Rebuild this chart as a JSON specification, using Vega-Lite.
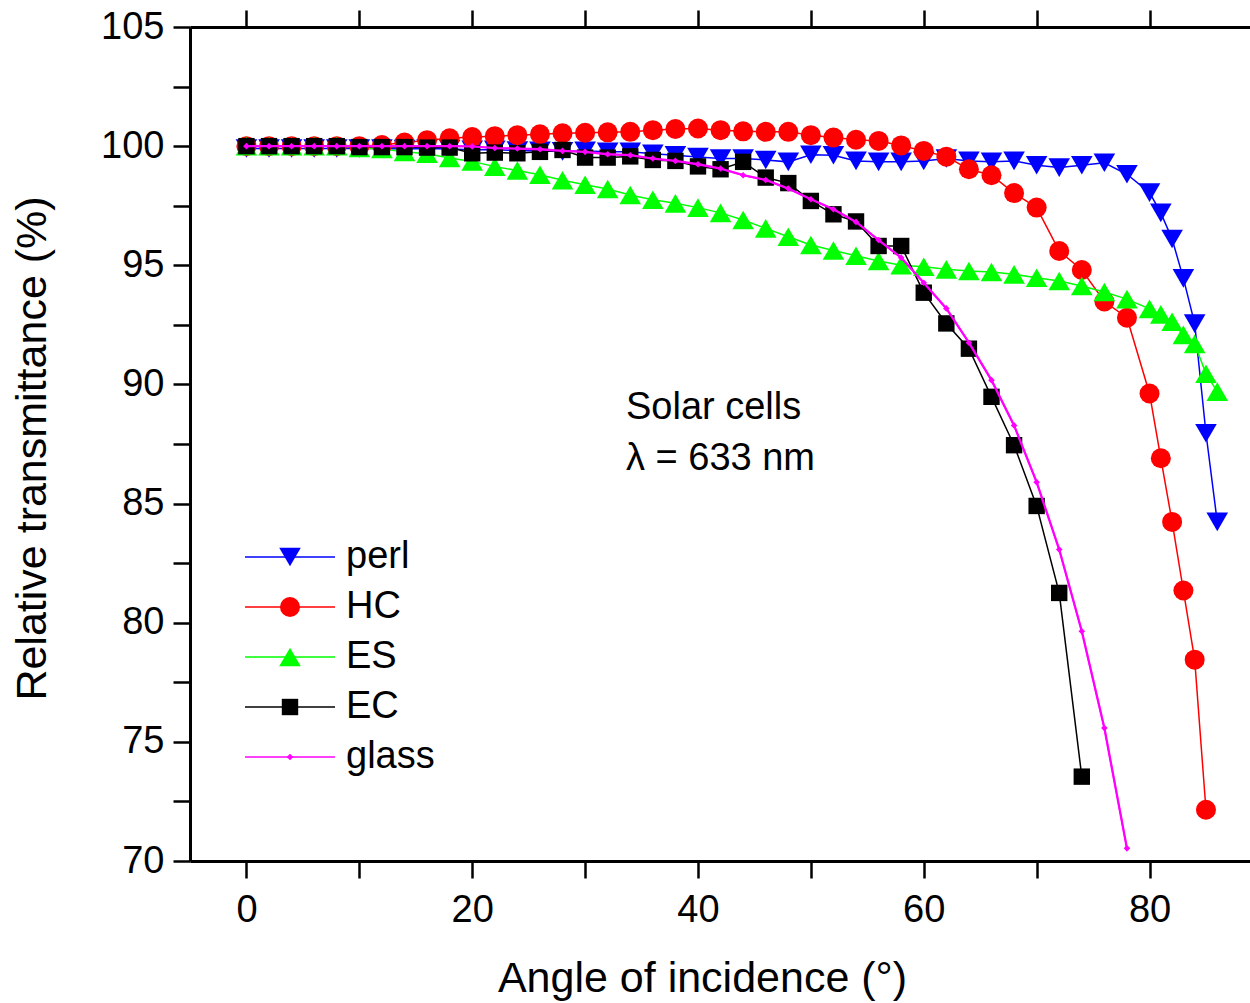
{
  "$schema": "https://vega.github.io/schema/vega-lite/v6.json",
  "autosize": {"type": "none"},
  "padding": {"left": 190, "top": 27, "right": 0, "bottom": 142},
  "width": 1060,
  "height": 834,
  "background": "white",
  "config": {
    "view": {"stroke": null},
    "font": "Liberation Sans",
    "axis": {
      "grid": false,
      "domainColor": "black",
      "domainWidth": 3,
      "tickColor": "black",
      "tickWidth": 2.5,
      "tickCap": "butt",
      "labelColor": "black",
      "titleColor": "black",
      "labelFont": "Liberation Sans",
      "titleFont": "Liberation Sans",
      "titleFontWeight": "normal",
      "labelFontSize": 38,
      "titleFontSize": 43,
      "labelFlush": false,
      "labelOverlap": false
    }
  },
  "datasets": {
    "main": [
      {"series":"perl","angle":0,"value":99.9},{"series":"perl","angle":2,"value":99.9},{"series":"perl","angle":4,"value":99.9},{"series":"perl","angle":6,"value":99.9},{"series":"perl","angle":8,"value":99.9},{"series":"perl","angle":10,"value":99.9},{"series":"perl","angle":12,"value":99.9},{"series":"perl","angle":14,"value":99.88},{"series":"perl","angle":16,"value":99.9},{"series":"perl","angle":18,"value":99.88},{"series":"perl","angle":20,"value":99.85},{"series":"perl","angle":22,"value":99.85},{"series":"perl","angle":24,"value":99.82},{"series":"perl","angle":26,"value":99.8},{"series":"perl","angle":28,"value":99.78},{"series":"perl","angle":30,"value":99.8},{"series":"perl","angle":32,"value":99.76},{"series":"perl","angle":34,"value":99.76},{"series":"perl","angle":36,"value":99.68},{"series":"perl","angle":38,"value":99.62},{"series":"perl","angle":40,"value":99.54},{"series":"perl","angle":42,"value":99.48},{"series":"perl","angle":44,"value":99.48},{"series":"perl","angle":46,"value":99.42},{"series":"perl","angle":48,"value":99.34},{"series":"perl","angle":50,"value":99.64},{"series":"perl","angle":52,"value":99.62},{"series":"perl","angle":54,"value":99.38},{"series":"perl","angle":56,"value":99.34},{"series":"perl","angle":58,"value":99.34},{"series":"perl","angle":60,"value":99.38},{"series":"perl","angle":62,"value":99.48},{"series":"perl","angle":64,"value":99.38},{"series":"perl","angle":66,"value":99.34},{"series":"perl","angle":68,"value":99.38},{"series":"perl","angle":70,"value":99.2},{"series":"perl","angle":72,"value":99.1},{"series":"perl","angle":74,"value":99.2},{"series":"perl","angle":76,"value":99.3},{"series":"perl","angle":78,"value":98.82},{"series":"perl","angle":80,"value":98.05},{"series":"perl","angle":81,"value":97.2},{"series":"perl","angle":82,"value":96.1},{"series":"perl","angle":83,"value":94.45},{"series":"perl","angle":84,"value":92.55},{"series":"perl","angle":85,"value":87.95},{"series":"perl","angle":86,"value":84.23},
      {"series":"HC","angle":0,"value":100},{"series":"HC","angle":2,"value":100},{"series":"HC","angle":4,"value":100},{"series":"HC","angle":6,"value":100},{"series":"HC","angle":8,"value":100},{"series":"HC","angle":10,"value":100},{"series":"HC","angle":12,"value":100.05},{"series":"HC","angle":14,"value":100.15},{"series":"HC","angle":16,"value":100.25},{"series":"HC","angle":18,"value":100.33},{"series":"HC","angle":20,"value":100.38},{"series":"HC","angle":22,"value":100.42},{"series":"HC","angle":24,"value":100.46},{"series":"HC","angle":26,"value":100.5},{"series":"HC","angle":28,"value":100.54},{"series":"HC","angle":30,"value":100.56},{"series":"HC","angle":32,"value":100.58},{"series":"HC","angle":34,"value":100.6},{"series":"HC","angle":36,"value":100.67},{"series":"HC","angle":38,"value":100.72},{"series":"HC","angle":40,"value":100.74},{"series":"HC","angle":42,"value":100.67},{"series":"HC","angle":44,"value":100.62},{"series":"HC","angle":46,"value":100.6},{"series":"HC","angle":48,"value":100.6},{"series":"HC","angle":50,"value":100.46},{"series":"HC","angle":52,"value":100.36},{"series":"HC","angle":54,"value":100.27},{"series":"HC","angle":56,"value":100.22},{"series":"HC","angle":58,"value":100.03},{"series":"HC","angle":60,"value":99.8},{"series":"HC","angle":62,"value":99.56},{"series":"HC","angle":64,"value":99.03},{"series":"HC","angle":66,"value":98.78},{"series":"HC","angle":68,"value":98.03},{"series":"HC","angle":70,"value":97.42},{"series":"HC","angle":72,"value":95.6},{"series":"HC","angle":74,"value":94.8},{"series":"HC","angle":76,"value":93.48},{"series":"HC","angle":78,"value":92.8},{"series":"HC","angle":80,"value":89.62},{"series":"HC","angle":81,"value":86.9},{"series":"HC","angle":82,"value":84.23},{"series":"HC","angle":83,"value":81.35},{"series":"HC","angle":84,"value":78.45},{"series":"HC","angle":85,"value":72.15},
      {"series":"ES","angle":0,"value":100},{"series":"ES","angle":2,"value":100},{"series":"ES","angle":4,"value":100},{"series":"ES","angle":6,"value":100},{"series":"ES","angle":8,"value":100},{"series":"ES","angle":10,"value":99.92},{"series":"ES","angle":12,"value":99.88},{"series":"ES","angle":14,"value":99.76},{"series":"ES","angle":16,"value":99.68},{"series":"ES","angle":18,"value":99.5},{"series":"ES","angle":20,"value":99.36},{"series":"ES","angle":22,"value":99.14},{"series":"ES","angle":24,"value":98.98},{"series":"ES","angle":26,"value":98.8},{"series":"ES","angle":28,"value":98.57},{"series":"ES","angle":30,"value":98.38},{"series":"ES","angle":32,"value":98.2},{"series":"ES","angle":34,"value":97.95},{"series":"ES","angle":36,"value":97.75},{"series":"ES","angle":38,"value":97.6},{"series":"ES","angle":40,"value":97.42},{"series":"ES","angle":42,"value":97.2},{"series":"ES","angle":44,"value":96.9},{"series":"ES","angle":46,"value":96.55},{"series":"ES","angle":48,"value":96.2},{"series":"ES","angle":50,"value":95.85},{"series":"ES","angle":52,"value":95.62},{"series":"ES","angle":54,"value":95.4},{"series":"ES","angle":56,"value":95.18},{"series":"ES","angle":58,"value":95.0},{"series":"ES","angle":60,"value":94.94},{"series":"ES","angle":62,"value":94.83},{"series":"ES","angle":64,"value":94.76},{"series":"ES","angle":66,"value":94.72},{"series":"ES","angle":68,"value":94.62},{"series":"ES","angle":70,"value":94.48},{"series":"ES","angle":72,"value":94.34},{"series":"ES","angle":74,"value":94.13},{"series":"ES","angle":76,"value":93.88},{"series":"ES","angle":78,"value":93.58},{"series":"ES","angle":80,"value":93.17},{"series":"ES","angle":81,"value":92.94},{"series":"ES","angle":82,"value":92.63},{"series":"ES","angle":83,"value":92.08},{"series":"ES","angle":84,"value":91.7},{"series":"ES","angle":85,"value":90.45},{"series":"ES","angle":86,"value":89.7},
      {"series":"EC","angle":0,"value":100},{"series":"EC","angle":2,"value":100},{"series":"EC","angle":4,"value":100},{"series":"EC","angle":6,"value":100},{"series":"EC","angle":8,"value":100},{"series":"EC","angle":10,"value":99.96},{"series":"EC","angle":12,"value":99.96},{"series":"EC","angle":14,"value":99.96},{"series":"EC","angle":16,"value":99.94},{"series":"EC","angle":18,"value":99.94},{"series":"EC","angle":20,"value":99.7},{"series":"EC","angle":22,"value":99.73},{"series":"EC","angle":24,"value":99.7},{"series":"EC","angle":26,"value":99.76},{"series":"EC","angle":28,"value":99.84},{"series":"EC","angle":30,"value":99.52},{"series":"EC","angle":32,"value":99.52},{"series":"EC","angle":34,"value":99.57},{"series":"EC","angle":36,"value":99.42},{"series":"EC","angle":38,"value":99.38},{"series":"EC","angle":40,"value":99.15},{"series":"EC","angle":42,"value":99.03},{"series":"EC","angle":44,"value":99.34},{"series":"EC","angle":46,"value":98.68},{"series":"EC","angle":48,"value":98.45},{"series":"EC","angle":50,"value":97.7},{"series":"EC","angle":52,"value":97.14},{"series":"EC","angle":54,"value":96.84},{"series":"EC","angle":56,"value":95.81},{"series":"EC","angle":58,"value":95.81},{"series":"EC","angle":60,"value":93.85},{"series":"EC","angle":62,"value":92.56},{"series":"EC","angle":64,"value":91.5},{"series":"EC","angle":66,"value":89.48},{"series":"EC","angle":68,"value":87.45},{"series":"EC","angle":70,"value":84.9},{"series":"EC","angle":72,"value":81.25},{"series":"EC","angle":74,"value":73.54},
      {"series":"glass","angle":0,"value":100},{"series":"glass","angle":2,"value":100},{"series":"glass","angle":4,"value":100},{"series":"glass","angle":6,"value":100},{"series":"glass","angle":8,"value":100},{"series":"glass","angle":10,"value":100},{"series":"glass","angle":12,"value":100},{"series":"glass","angle":14,"value":100},{"series":"glass","angle":16,"value":100},{"series":"glass","angle":18,"value":100},{"series":"glass","angle":20,"value":99.99},{"series":"glass","angle":22,"value":99.92},{"series":"glass","angle":24,"value":99.9},{"series":"glass","angle":26,"value":99.87},{"series":"glass","angle":28,"value":99.8},{"series":"glass","angle":30,"value":99.76},{"series":"glass","angle":32,"value":99.66},{"series":"glass","angle":34,"value":99.62},{"series":"glass","angle":36,"value":99.48},{"series":"glass","angle":38,"value":99.38},{"series":"glass","angle":40,"value":99.24},{"series":"glass","angle":42,"value":99.06},{"series":"glass","angle":44,"value":98.78},{"series":"glass","angle":46,"value":98.58},{"series":"glass","angle":48,"value":98.22},{"series":"glass","angle":50,"value":97.77},{"series":"glass","angle":52,"value":97.35},{"series":"glass","angle":54,"value":96.82},{"series":"glass","angle":56,"value":96.06},{"series":"glass","angle":58,"value":95.32},{"series":"glass","angle":60,"value":94.27},{"series":"glass","angle":62,"value":93.19},{"series":"glass","angle":64,"value":91.75},{"series":"glass","angle":66,"value":90.18},{"series":"glass","angle":68,"value":88.28},{"series":"glass","angle":70,"value":85.9},{"series":"glass","angle":72,"value":83.07},{"series":"glass","angle":74,"value":79.64},{"series":"glass","angle":76,"value":75.58},{"series":"glass","angle":78,"value":70.53}
    ],
    "note": [{"label": "Solar cells"}]
  },
  "data": {"name": "main"},
  "resolve": {"axis": {"x": "independent", "y": "independent"}},
  "layer": [
    {
      "mark": {"type": "line", "strokeWidth": 1.5},
      "encoding": {
        "x": {
          "field": "angle", "type": "quantitative",
          "scale": {"domain": [-5, 88.9], "nice": false, "zero": false},
          "axis": {
            "orient": "bottom",
            "values": [0, 10, 20, 30, 40, 50, 60, 70, 80],
            "labelExpr": "datum.value % 20 === 0 ? datum.label : ''",
            "tickSize": 17,
            "labelPadding": 13,
            "title": "Angle of incidence (°)",
            "titleX": 512,
            "titleY": 130,
            "titleBaseline": "alphabetic",
            "encode": {"ticks": {"update": {"y2": {"signal": "datum.value % 20 === 0 ? 17 : 10"}}}}
          }
        },
        "y": {
          "field": "value", "type": "quantitative",
          "scale": {"domain": [70, 105], "nice": false, "zero": false},
          "axis": {
            "orient": "left",
            "values": [70, 72.5, 75, 77.5, 80, 82.5, 85, 87.5, 90, 92.5, 95, 97.5, 100, 102.5, 105],
            "labelExpr": "datum.value % 5 === 0 ? datum.label : ''",
            "tickSize": 17,
            "labelPadding": 9,
            "title": "Relative transmittance (%)",
            "titleX": -145,
            "titleY": 421,
            "titleBaseline": "alphabetic",
            "encode": {"ticks": {"update": {"x2": {"signal": "datum.value % 5 === 0 ? -17 : -8"}}}}
          }
        },
        "stroke": {
          "field": "series", "type": "nominal",
          "scale": {"domain": ["perl", "HC", "ES", "EC", "glass", "none"], "range": ["#0000ff", "#ff0000", "#00ff00", "#000000", "#ff00ff", "#ffffff"]},
          "legend": {
            "orient": "none", "legendX": 54, "legendY": 511, "title": null,
            "values": ["perl", "HC", "ES", "EC", "glass"],
            "symbolType": "stroke", "symbolSize": 8100, "symbolStrokeWidth": 1.5,
            "labelFontSize": 38, "labelFont": "Liberation Sans", "labelColor": "black",
            "labelOffset": 10, "clipHeight": 38, "rowPadding": 12, "padding": 0
          }
        }
      }
    },
    {
      "mark": {"type": "point", "filled": true, "size": 400, "opacity": 1, "strokeWidth": 0},
      "encoding": {
        "x": {"field": "angle", "type": "quantitative", "scale": {"domain": [-5, 88.9], "nice": false, "zero": false}, "axis": null},
        "y": {"field": "value", "type": "quantitative", "scale": {"domain": [70, 105], "nice": false, "zero": false}, "axis": null},
        "fill": {
          "field": "series", "type": "nominal",
          "scale": {"domain": ["perl", "HC", "ES", "EC", "glass"], "range": ["#0000ff", "#ff0000", "#00ff00", "#000000", "#ff00ff"]},
          "legend": {
            "orient": "none", "legendX": 54, "legendY": 511, "title": null,
            "symbolSize": 400, "symbolOffset": 27, "symbolStrokeWidth": 0,
            "labelFontSize": 38, "labelExpr": "''", "clipHeight": 38, "rowPadding": 12, "padding": 0
          }
        },
        "shape": {
          "field": "series", "type": "nominal",
          "scale": {"domain": ["perl", "HC", "ES", "EC", "glass"], "range": ["M-1.08,-0.93L1.08,-0.93L0,0.93Z", "circle", "M0,-0.93L1.08,0.93L-1.08,0.93Z", "M-0.82,-0.82H0.82V0.82H-0.82Z", "M0,-0.33L0.33,0L0,0.33L-0.33,0Z"]},
          "legend": {
            "orient": "none", "legendX": 54, "legendY": 511, "title": null,
            "symbolSize": 400, "symbolOffset": 27, "symbolStrokeWidth": 0,
            "labelFontSize": 38, "labelExpr": "''", "clipHeight": 38, "rowPadding": 12, "padding": 0
          }
        }
      }
    },
    {
      "transform": [{"filter": "datum.series === 'glass'"}],
      "mark": {"type": "line", "strokeWidth": 2.3},
      "encoding": {
        "x": {"field": "angle", "type": "quantitative", "scale": {"domain": [-5, 88.9], "nice": false, "zero": false}, "axis": null},
        "y": {"field": "value", "type": "quantitative", "scale": {"domain": [70, 105], "nice": false, "zero": false}, "axis": null},
        "stroke": {
          "field": "series", "type": "nominal",
          "scale": {"domain": ["perl", "HC", "ES", "EC", "glass", "none"], "range": ["#0000ff", "#ff0000", "#00ff00", "#000000", "#ff00ff", "#ffffff"]},
          "legend": {
            "orient": "none", "legendX": 54, "legendY": 511, "title": null,
            "values": ["perl", "HC", "ES", "EC", "glass"],
            "symbolType": "stroke", "symbolSize": 8100, "symbolStrokeWidth": 1.5,
            "labelFontSize": 38, "labelFont": "Liberation Sans", "labelColor": "black",
            "labelOffset": 10, "clipHeight": 38, "rowPadding": 12, "padding": 0
          }
        }
      }
    },
    {
      "data": {"name": "note"},
      "mark": {"type": "text", "align": "left", "baseline": "alphabetic", "fontSize": 38, "lineHeight": 51, "font": "Liberation Sans", "color": "black"},
      "encoding": {
        "x": {
          "datum": 33.62, "type": "quantitative",
          "scale": {"domain": [-5, 88.9], "nice": false, "zero": false},
          "axis": {
            "orient": "top",
            "values": [0, 10, 20, 30, 40, 50, 60, 70, 80],
            "labels": false,
            "title": null,
            "tickSize": 17,
            "encode": {"ticks": {"update": {"y2": {"signal": "datum.value % 20 === 0 ? 17 : 10"}}}}
          }
        },
        "y": {"datum": 88.57, "type": "quantitative", "scale": {"domain": [70, 105], "nice": false, "zero": false}, "axis": null},
        "text": {"value": ["Solar cells", "λ = 633 nm"]}
      }
    }
  ]
}
